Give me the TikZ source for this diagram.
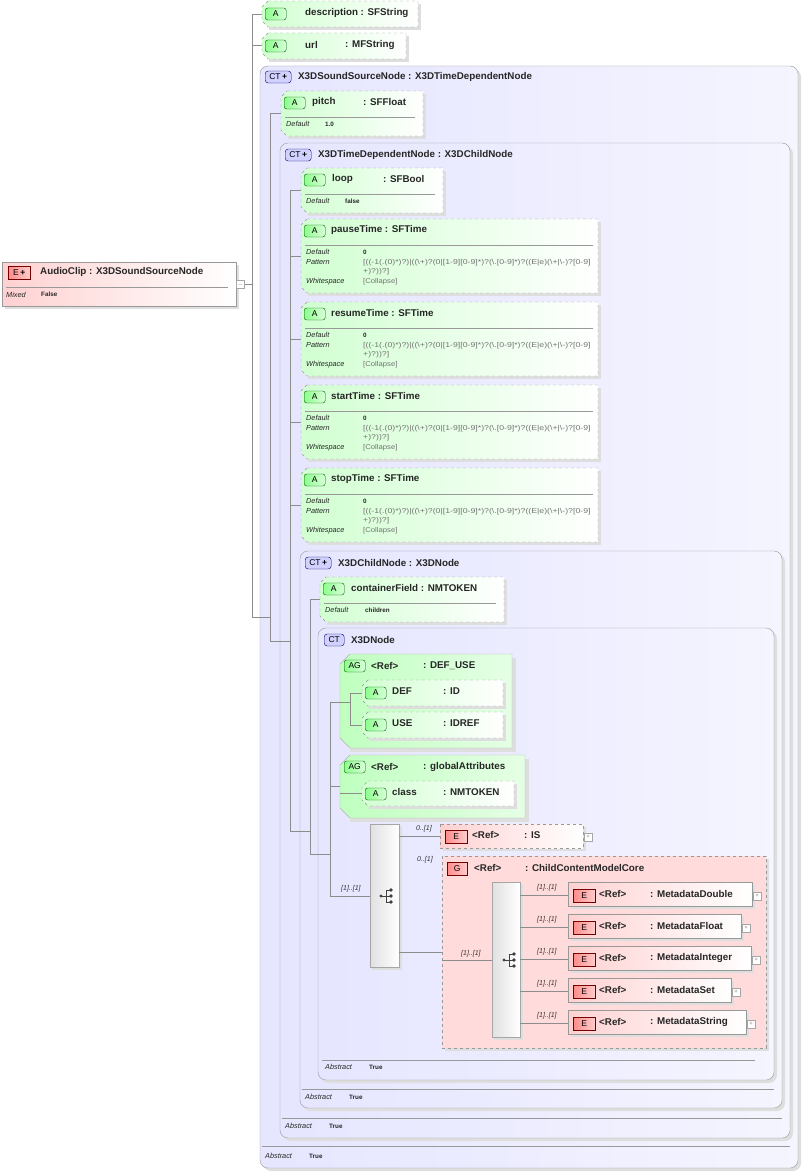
\documentclass[tikz,border=0pt]{standalone}
\usepackage{fontspec}
\setmainfont{Liberation Sans}
\newcommand\bsl{\textbackslash}
\newcommand\PatA{\scalebox{1.25}[1]{[((-1(.(0)*)?)|((\bsl+)?(0|[1-9][0-9]*)?(\bsl.[0-9]*)?((E|e)(\bsl+|\bsl-)?[0-9]}}
\newcommand\PatB{\scalebox{1.25}[1]{+)?))?]}}
\begin{document}
\begin{tikzpicture}[x=1pt,y=-1pt,
 ttl/.style={anchor=west,inner sep=0,font=\fontsize{9.8}{11}\selectfont\bfseries,text=black!85},
 lab/.style={anchor=west,inner sep=0,font=\fontsize{7.3}{8}\selectfont\itshape,text=black!85},
 val/.style={anchor=west,inner sep=0,font=\fontsize{6.3}{7}\selectfont\bfseries,text=black!85},
 pat/.style={anchor=west,inner sep=0,font=\fontsize{7}{8}\selectfont,text=black!55},
 card/.style={anchor=west,inner sep=0,font=\fontsize{7}{8}\selectfont\itshape,text=black!80},
 con/.style={draw=black!45,line width=0.6pt},
 attr/.style={draw=black!40,dashed,left color=green!18!white,right color=white},
 agrp/.style={draw=black!30,left color=green!25!white,right color=green!10!white},
 ct/.style={draw=black!40,rounded corners=8,left color=blue!10!white,right color=blue!4!white},
 el/.style={draw=black!40,left color=red!18!white,right color=white},
 eld/.style={draw=black!40,dashed,left color=red!18!white,right color=white},
 sh/.style={fill=black!13},
 bA/.style={anchor=west,draw=green!35!black,left color=green!45!white,right color=green!15!white,rounded corners=2.5,minimum width=21,minimum height=12,inner sep=0,font=\fontsize{8.5}{9}\selectfont},
 bE/.style={anchor=west,draw=red!45!black,left color=red!45!white,right color=red!20!white,minimum width=22,minimum height=13,inner sep=0,font=\fontsize{8.5}{9}\selectfont},
 bCT/.style={anchor=west,draw=blue!40!black,fill=blue!18!white,rounded corners=3,minimum width=26,minimum height=12,inner sep=0,font=\fontsize{8.5}{9}\selectfont},
 pm/.style={draw=black!35,fill=white,minimum size=8,inner sep=0,font=\fontsize{6}{6}\selectfont,text=black!50},
 seq/.style={draw=black!35,left color=black!12,right color=white}
]
\useasboundingbox (0,0) rectangle (803,1172);
\newcommand\ABox[5]{%
 \fill[sh] (#2+7,#3+3) -- (#4+3,#3+3) -- (#4+3,#5+3) -- (#2+7,#5+3) -- cycle;
 \path[#1] (#2+6,#3) -- (#4,#3) -- (#4,#5) -- (#2+6,#5) -- (#2,#5-6) -- (#2,#3+6) -- cycle;}
\newcommand\GBox[4]{%
 \fill[sh] (#1+10,#2+4) -- (#3+4,#2+4) -- (#3+4,#4+4) -- (#1+10,#4+4) -- cycle;
 \path[agrp] (#1+10,#2) -- (#3,#2) -- (#3,#4) -- (#1+10,#4) -- (#1,#4-10) -- (#1,#2+10) -- cycle;}
\newcommand\CTBox[4]{%
 \fill[sh,rounded corners=8] (#1+3,#2+3) rectangle (#3+3,#4+3);
 \path[ct] (#1,#2) rectangle (#3,#4);}
\newcommand\Sep[3]{\draw[black!40] (#1,#3) -- (#2,#3);}

% ===== AudioClip =====
\fill[sh] (5,265) rectangle (239,309);
\path[el] (2,262) rectangle (236,306);
\node[bE] (eac) at (8,273) {E\,\textbf{+}};
\node[ttl] (tac) at (40,272) {AudioClip : X3DSoundSourceNode};
\Sep{6}{228}{287}
\node[lab] (lmx) at (6,295) {Mixed};
\node[val] (vmx) at (41,294) {False};
\node[pm] (mac) at (240.5,284.5) {$-$};

% ===== description / url =====
\ABox{attr}{262}{1}{418}{27}
\node[bA] (ad) at (265,14) {A};
\node[ttl] (td) at (305,13) {description : SFString};
\ABox{attr}{262}{33}{406}{59}
\node[bA] (au) at (265,46) {A};
\node[ttl] (tu) at (305,45) {url};
\node[ttl] (tu2) at (345,45) {: MFString};

% ===== CT X3DSoundSourceNode =====
\CTBox{260}{66}{798}{1168}
\node[bCT] (c1) at (265,77) {CT\,\textbf{+}};
\node[ttl] (t1) at (298,77) {X3DSoundSourceNode : X3DTimeDependentNode};
\Sep{262}{790}{1146}
\node[lab] (ab1) at (265,1156) {Abstract};
\node[val] (ab1v) at (309,1156) {True};

\ABox{attr}{281}{91}{423}{136}
\node[bA] (ap) at (284,103) {A};
\node[ttl] (tp) at (312,102) {pitch};
\node[ttl] (tp2) at (363,102) {: SFFloat};
\Sep{285}{415}{117}
\node[lab] (lp) at (286,124) {Default};
\node[val] (vp) at (325,124) {1.0};

% ===== CT X3DTimeDependentNode =====
\CTBox{280}{143}{790}{1138}
\node[bCT] (c2) at (285,155) {CT\,\textbf{+}};
\node[ttl] (t2) at (318,155) {X3DTimeDependentNode : X3DChildNode};
\Sep{282}{782}{1118}
\node[lab] (ab2) at (285,1126) {Abstract};
\node[val] (ab2v) at (329,1126) {True};

\ABox{attr}{301}{168}{443}{213}
\node[bA] (al) at (304,180) {A};
\node[ttl] (tl) at (332,179) {loop};
\node[ttl] (tl2) at (383,179) {: SFBool};
\Sep{305}{435}{194}
\node[lab] (ll) at (306,201) {Default};
\node[val] (vl) at (345,201) {false};

\foreach \nm/\yy in {pauseTime/219,resumeTime/302,startTime/385,stopTime/468}{
 \ABox{attr}{301}{\yy}{598}{\yy+74}
 \node[bA] (a\nm) at (304,\yy+12) {A};
 \node[ttl] (t\nm) at (331,\yy+11) {\nm\ : SFTime};
 \Sep{305}{593}{\yy+26}
 \node[lab] (ld\nm) at (306,\yy+33) {Default};
 \node[val] (vd\nm) at (363,\yy+33) {0};
 \node[lab] (lq\nm) at (306,\yy+43) {Pattern};
 \node[pat] (vq\nm) at (363,\yy+44) {\PatA};
 \node[pat] (vr\nm) at (363,\yy+53) {\PatB};
 \node[lab] (lw\nm) at (306,\yy+63) {Whitespace};
 \node[anchor=west,inner sep=0,font=\fontsize{7}{7}\selectfont,text=black!55] (vw\nm) at (363,\yy+63) {\scalebox{1.1}[1]{[Collapse]}};
}

% ===== CT X3DChildNode =====
\CTBox{300}{551}{782}{1108}
\node[bCT] (c3) at (305,563) {CT\,\textbf{+}};
\node[ttl] (t3) at (338,563) {X3DChildNode : X3DNode};
\Sep{302}{774}{1089}
\node[lab] (ab3) at (305,1097) {Abstract};
\node[val] (ab3v) at (349,1097) {True};

\ABox{attr}{320}{577}{504}{622}
\node[bA] (ac) at (323,589) {A};
\node[ttl] (tc) at (351,588) {containerField : NMTOKEN};
\Sep{324}{496}{603}
\node[lab] (lc) at (325,610) {Default};
\node[val] (vc) at (365,610) {children};

% ===== CT X3DNode =====
\CTBox{318}{628}{774}{1080}
\node[bCT,minimum width=20] (c4) at (324,640) {CT};
\node[ttl] (t4) at (351,640) {X3DNode};
\Sep{322}{755}{1060}
\node[lab] (ab4) at (325,1067) {Abstract};
\node[val] (ab4v) at (369,1067) {True};

\GBox{340}{654}{512}{748}
\node[bA] (ag1) at (344,666) {AG};
\node[ttl] (tg1) at (371,666) {<Ref>};
\node[ttl] (tg1b) at (423,666) {: DEF\_USE};
\ABox{attr}{362}{680}{503}{706}
\node[bA] (adef) at (365,693) {A};
\node[ttl] (tdef) at (392,691) {DEF};
\node[ttl] (tdef2) at (443,691) {: ID};
\ABox{attr}{362}{712}{503}{738}
\node[bA] (ause) at (365,725) {A};
\node[ttl] (tuse) at (392,723) {USE};
\node[ttl] (tuse2) at (443,723) {: IDREF};

\GBox{340}{755}{525}{818}
\node[bA] (ag2) at (344,767) {AG};
\node[ttl] (tg2) at (371,767) {<Ref>};
\node[ttl] (tg2b) at (423,767) {: globalAttributes};
\ABox{attr}{362}{781}{514}{806}
\node[bA] (acl) at (365,794) {A};
\node[ttl] (tcl) at (392,792) {class};
\node[ttl] (tcl2) at (443,792) {: NMTOKEN};

% sequence 1
\fill[sh] (372,826) rectangle (402,970);
\path[seq] (370,824) rectangle (399,967);
% IS
\fill[sh] (443,827) rectangle (586,851);
\path[eld] (440,824) rectangle (583,848);
\node[bE] (eis) at (445,837) {E};
\node[ttl] (tis) at (472,835) {<Ref>};
\node[ttl] (tis2) at (524,835) {: IS};
\node[pm] (pis) at (588,837) {+};
% G
\fill[sh] (445,859) rectangle (769,1051);
\path[draw=black!40,dashed,fill=red!14!white] (442,856) rectangle (766,1048);
\node[bE,minimum width=20] (gg) at (447,869) {G};
\node[ttl] (tgg) at (474,868) {<Ref>};
\node[ttl] (tgg2) at (525,868) {: ChildContentModelCore};
% sequence 2
\fill[sh] (494,884) rectangle (523,1040);
\path[seq] (492,882) rectangle (520,1037);
\foreach \nm/\yy/\xr in {Double/882/752,Float/914/741,Integer/946/751,Set/978/731,String/1010/746}{
 \fill[sh] (571,\yy+3) rectangle (\xr+3,\yy+27);
 \path[el] (568,\yy) rectangle (\xr,\yy+24);
 \node[bE] (e\nm) at (573,\yy+14) {E};
 \node[ttl] (r\nm) at (599,\yy+12) {<Ref>};
 \node[ttl] (m\nm) at (650,\yy+12) {: Metadata\nm};
 \node[pm] (p\nm) at (\xr+5,\yy+14) {+};
 \draw[con] (520,\yy+13) -- (568,\yy+13);
 \node[card] (k\nm) at (537,\yy+6) {[1]..[1]};
}

% sequence icons
\foreach \cx/\cy in {381/896,504/960}{
 \fill[black!75] (\cx,\cy) circle (1.6);
 \draw[black!75,line width=0.7] (\cx,\cy) -- (\cx+5,\cy) (\cx+5,\cy-6) -- (\cx+5,\cy+6)
   (\cx+5,\cy-6) -- (\cx+9,\cy-6) (\cx+5,\cy) -- (\cx+9,\cy) (\cx+5,\cy+6) -- (\cx+9,\cy+6);
 \fill[black!75] (\cx+10,\cy-6) circle (1.8) (\cx+10,\cy) circle (1.8) (\cx+10,\cy+6) circle (1.8);
}

% ===== connectors =====
\draw[con] (245,284) -- (252,284);
\draw[con] (262,14) -- (252,14) -- (252,617) -- (270,617);
\draw[con] (252,45) -- (262,45);
\draw[con] (281,113) -- (270,113) -- (270,641) -- (290,641);
\draw[con] (301,190) -- (290,190) -- (290,831) -- (310,831);
\foreach \yy in {256,339,422,505} \draw[con] (290,\yy) -- (301,\yy);
\draw[con] (320,599) -- (310,599) -- (310,854) -- (330,854);
\draw[con] (340,702) -- (330,702) -- (330,896) -- (370,896);
\draw[con] (330,786) -- (340,786);
\draw[con] (340,793) -- (362,793);
\draw[con] (362,693) -- (350,693) -- (350,725) -- (362,725);
\draw[con] (340,702) -- (350,702);
\node[card] (k1) at (341,889) {[1]..[1]};
\draw[con] (399,836) -- (440,836);
\node[card] (k2) at (416,829) {0..[1]};
\draw[con] (399,952) -- (442,952);
\node[card] (k3) at (417,860) {0..[1]};
\draw[con] (442,960) -- (492,960);
\node[card] (k4) at (461,954) {[1]..[1]};
\end{tikzpicture}
\end{document}
